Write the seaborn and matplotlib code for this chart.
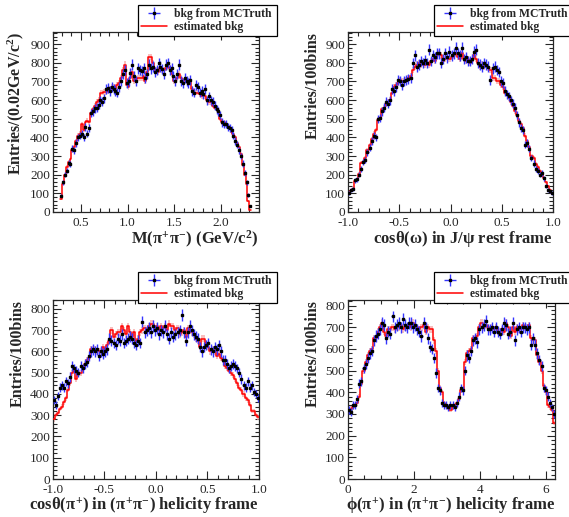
import numpy as np
import pandas as pd
import seaborn as sns
import matplotlib
matplotlib.use("Agg")
import matplotlib.pyplot as plt
from matplotlib.lines import Line2D
from matplotlib.ticker import MultipleLocator, FormatStrFormatter

# ---- data ----
# M(pi+pi-), 0.02 GeV bins from 0.28 to 2.32
mpp_range = (0.28, 2.32)
mpp_truth = [88, 160, 200, 222, 265,
             255, 340, 330, 370, 400,
             410, 420, 400, 455, 420,
             450, 530, 540, 555, 560,
             575, 600, 590, 610, 660,
             665, 650, 670, 660, 650,
             640, 670, 700, 740, 760,
             690, 700, 745, 790, 730,
             700, 770, 760, 755, 770,
             720, 740, 790, 770, 780,
             750, 760, 800, 780, 765,
             740, 790, 800, 760, 770,
             730, 700, 740, 790, 700,
             690, 720, 700, 690, 710,
             650, 640, 680, 670, 640,
             650, 630, 660, 600, 620,
             600, 590, 570, 550, 540,
             520, 480, 470, 470, 455,
             450, 440, 410, 380, 360,
             330, 300, 260, 210, 160,
             90, 30]
mpp_est = [70, 150, 200, 240, 270,
           285, 330, 350, 380, 410,
           420, 470, 440, 480, 490,
           480, 530, 550, 570, 590,
           600, 640, 640, 645, 645,
           650, 660, 670, 670, 660,
           680, 690, 720, 760, 790,
           680, 670, 720, 750, 700,
           715, 720, 720, 720, 730,
           700, 750, 830, 830, 800,
           760, 760, 750, 770, 760,
           760, 770, 780, 770, 740,
           700, 700, 720, 740, 720,
           700, 710, 700, 700, 700,
           660, 640, 640, 640, 630,
           620, 620, 620, 600, 590,
           590, 570, 560, 550, 530,
           500, 480, 480, 470, 460,
           450, 430, 420, 400, 370,
           350, 310, 250, 200, 150,
           60, 10]

# cos theta(omega) in J/psi rest frame, 100 bins
cw_range = (-1.0, 1.0)
cw_truth = [100, 120, 125, 170, 175,
            200, 230, 270, 280, 320,
            345, 380, 410, 400, 500,
            505, 540, 560, 590, 580,
            600, 660, 650, 670, 710,
            700, 680, 700, 710, 715,
            720, 800, 840, 780, 790,
            810, 800, 815, 800, 870,
            810, 840, 830, 850, 850,
            800, 820, 850, 830, 860,
            840, 850, 880, 850, 840,
            880, 820, 830, 810, 810,
            820, 860, 870, 800, 790,
            780, 800, 790, 780, 710,
            770, 780, 760, 750, 700,
            690, 650, 630, 620, 600,
            580, 560, 520, 480, 450,
            440, 360, 370, 340, 290,
            260, 230, 220, 200, 210,
            180, 140, 120, 110, 100]
cw_est = [95, 115, 125, 165, 170,
          205, 265, 270, 290, 330,
          360, 390, 420, 440, 495,
          500, 550, 560, 580, 590,
          600, 640, 670, 680, 690,
          710, 700, 700, 710, 720,
          730, 760, 780, 790, 800,
          790, 800, 790, 800, 790,
          810, 820, 810, 840, 850,
          840, 810, 820, 830, 820,
          830, 840, 850, 830, 820,
          850, 820, 810, 820, 800,
          810, 840, 820, 800, 780,
          790, 780, 790, 770, 760,
          720, 720, 700, 700, 680,
          670, 640, 630, 610, 590,
          570, 540, 520, 490, 470,
          450, 410, 380, 350, 300,
          290, 260, 240, 220, 200,
          180, 160, 140, 120, 100]

# cos theta(pi+) in (pi+pi-) helicity frame, 100 bins
cp_range = (-1.0, 1.0)
cp_truth = [370, 350, 390, 430, 440,
            430, 460, 450, 480, 530,
            520, 510, 500, 530, 520,
            540, 550, 580, 600, 610,
            600, 610, 580, 600, 590,
            600, 610, 660, 650, 640,
            630, 660, 650, 680, 640,
            650, 660, 670, 660, 640,
            630, 650, 640, 740, 690,
            700, 710, 690, 720, 700,
            710, 680, 700, 690, 720,
            680, 660, 690, 670, 680,
            690, 700, 770, 690, 650,
            690, 720, 700, 680, 670,
            660, 620, 600, 620, 630,
            640, 610, 600, 620, 610,
            630, 600, 560, 560, 540,
            520, 530, 540, 530, 520,
            500, 470, 440, 430, 460,
            430, 440, 410, 400, 380]
cp_est = [280, 300, 310, 330, 340,
          360, 380, 420, 450, 500,
          510, 470, 500, 500, 520,
          540, 560, 570, 610, 610,
          610, 600, 600, 600, 620,
          610, 630, 650, 700, 670,
          680, 690, 690, 720, 700,
          680, 720, 690, 670, 690,
          650, 660, 690, 700, 710,
          700, 720, 730, 730, 710,
          720, 700, 720, 710, 720,
          700, 730, 720, 720, 700,
          710, 680, 690, 700, 670,
          710, 700, 690, 680, 660,
          650, 620, 660, 660, 640,
          620, 600, 610, 600, 580,
          590, 570, 560, 530, 520,
          510, 500, 490, 470, 450,
          430, 420, 400, 380, 370,
          350, 320, 320, 300, 290]

# phi(pi+) in (pi+pi-) helicity frame, 100 bins over 0..2pi
ph_range = (0.0, 2 * np.pi)
ph_truth = [320, 310, 340, 340, 370, 440, 450, 510, 530, 560,
            580, 590, 640, 660, 670, 690, 720, 710, 650, 680,
            670, 750, 700, 710, 720, 700, 740, 710, 700, 720,
            720, 700, 710, 690, 680, 660, 720, 700, 650, 610,
            600, 560, 490, 420, 410, 350, 340, 340, 330, 340,
            340, 330, 350, 380, 420, 410, 500, 570, 560, 590,
            640, 650, 630, 690, 700, 710, 730, 690, 690, 700,
            680, 700, 680, 670, 690, 720, 710, 670, 680, 720,
            640, 690, 700, 680, 700, 700, 690, 700, 620, 650,
            620, 580, 550, 520, 420, 410, 380, 350, 330, 300]
ph_est = [320, 325, 330, 340, 350, 380, 440, 500, 540, 570,
          590, 600, 650, 650, 680, 700, 720, 680, 660, 690,
          690, 700, 690, 700, 700, 710, 690, 700, 700, 710,
          700, 720, 710, 700, 690, 700, 710, 680, 700, 690,
          690, 640, 590, 500, 420, 400, 350, 340, 330, 320,
          330, 340, 350, 370, 410, 410, 540, 580, 590, 600,
          650, 650, 660, 700, 720, 700, 710, 700, 690, 700,
          690, 700, 680, 680, 690, 680, 720, 700, 660, 700,
          680, 700, 690, 690, 710, 700, 700, 710, 650, 640,
          640, 570, 540, 500, 430, 400, 340, 330, 320, 260]

sns.set_theme(style="ticks")
plt.rcParams['font.family'] = ['Liberation Serif', 'DejaVu Serif']
plt.rcParams['mathtext.fontset'] = 'custom'
plt.rcParams['mathtext.rm'] = 'Liberation Serif:bold'
plt.rcParams['mathtext.it'] = 'Liberation Serif:bold'
plt.rcParams['mathtext.bf'] = 'Liberation Serif:bold'
plt.rcParams['axes.linewidth'] = 0.9

W, H = 569, 517
fig = plt.figure(figsize=(W / 100, H / 100), dpi=100)


def box(left, right, top, bottom):
    return [left / W, 1 - bottom / H, (right - left) / W, (bottom - top) / H]


def draw_panel(rect, rng, truth, est, xlim, ylim, xmaj, xmin, xlabel, ylabel, leg, fmt=None):
    ax = fig.add_axes(rect)
    truth = np.asarray(truth, float)
    est = np.asarray(est, float)
    nb = len(truth)
    edges = np.linspace(rng[0], rng[1], nb + 1)
    centers = 0.5 * (edges[1:] + edges[:-1])
    half = 0.5 * (edges[1] - edges[0])
    df = pd.DataFrame({'x': centers, 'truth': truth, 'est': est})

    # light band around the estimate
    band = np.sqrt(np.maximum(est, 1)) * 0.6
    ax.fill_between(edges, np.r_[est - band, est[-1] - band[-1]],
                    np.r_[est + band, est[-1] + band[-1]],
                    step='post', color='#f6a5a5', alpha=0.7, lw=0, zorder=1)
    sns.histplot(data=df, x='x', weights='est', bins=nb, binrange=rng,
                 element='step', fill=False, color='red', linewidth=1.1,
                 ax=ax, zorder=3)
    eb = ax.errorbar(df['x'], df['truth'], yerr=np.sqrt(df['truth']), xerr=half,
                     fmt='s', ms=1.9, color='black', ecolor='#3535ff',
                     elinewidth=1.0, capsize=0, zorder=4)

    ax.set_xlim(*xlim)
    ax.set_ylim(*ylim)
    ax.xaxis.set_major_locator(MultipleLocator(xmaj))
    ax.xaxis.set_minor_locator(MultipleLocator(xmin))
    if fmt:
        ax.xaxis.set_major_formatter(FormatStrFormatter(fmt))
    ax.yaxis.set_major_locator(MultipleLocator(100))
    ax.yaxis.set_minor_locator(MultipleLocator(20))
    ax.tick_params(which='both', direction='in', top=True, right=True,
                   labelsize=9.5, width=0.8)
    ax.tick_params(axis='y', pad=2)
    ax.tick_params(axis='x', pad=3.5)
    ax.tick_params(which='major', length=6)
    ax.tick_params(which='minor', length=3)
    ax.set_xlabel(xlabel, loc='right', fontsize=12, fontweight='bold', labelpad=0)
    ax.set_ylabel(ylabel, loc='top', fontsize=11.5, fontweight='bold', labelpad=3)

    handles = [eb, Line2D([], [], color='red', lw=1.1)]
    lg = ax.legend(handles, ['bkg from MCTruth', 'estimated bkg'],
                   loc='upper left', mode='expand',
                   bbox_to_anchor=(leg[0] / W, 1 - leg[3] / H, (leg[1] - leg[0]) / W,
                                   (leg[3] - leg[2]) / H),
                   bbox_transform=fig.transFigure, fancybox=False,
                   framealpha=1, edgecolor='black', borderpad=0.25,
                   labelspacing=0.1, handlelength=2.2, handletextpad=0.6,
                   borderaxespad=0, prop={'weight': 'bold', 'size': 8.4})
    lg.get_frame().set_linewidth(0.9)
    return ax


draw_panel(box(52.7, 258.7, 32, 212), mpp_range, mpp_truth, mpp_est, (0.2, 2.4), (0, 965),
           0.5, 0.1, r'M($\pi^{+}\pi^{-}$) (GeV/c$^{2}$)',
           r'Entries/(0.02GeV/c$^{2}$)', (138, 277, 5, 34), '%.1f')

draw_panel(box(348, 553, 32, 212), cw_range, cw_truth, cw_est, (-1, 1), (0, 965),
           0.5, 0.1, r'cos$\theta$($\omega$) in J/$\psi$ rest frame',
           'Entries/100bins', (434, 570, 5, 34), '%.1f')

draw_panel(box(52.7, 259, 300, 479), cp_range, cp_truth, cp_est, (-1, 1), (0, 842),
           0.5, 0.1, r'cos$\theta$($\pi^{+}$) in ($\pi^{+}\pi^{-}$) helicity frame',
           'Entries/100bins', (138, 277, 272, 301), '%.1f')

draw_panel(box(348, 555, 300, 479), ph_range, ph_truth, ph_est, (0, 2 * np.pi), (0, 826),
           2, 0.5, r'$\phi$($\pi^{+}$) in ($\pi^{+}\pi^{-}$) helicity frame',
           'Entries/100bins', (434, 570, 272, 301))

fig.savefig('out.png', dpi=100, facecolor='white')
